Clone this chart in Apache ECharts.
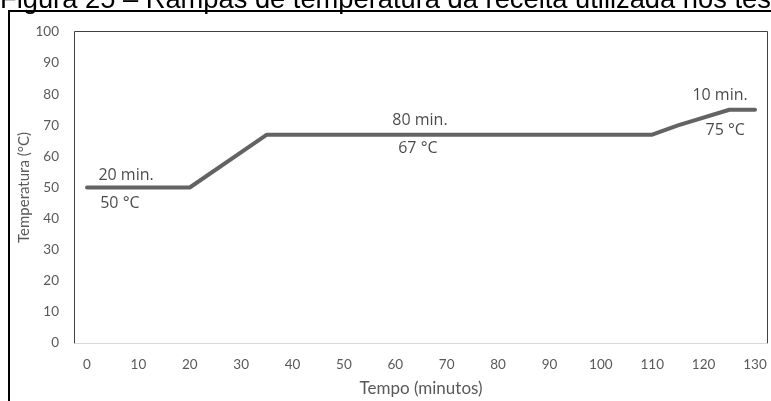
<!DOCTYPE html>
<html>
<head>
<meta charset="utf-8">
<script src="https://cdn.jsdelivr.net/npm/echarts@6/dist/echarts.min.js"></script>
<style>
html,body{margin:0;padding:0;background:#fff;}
#chart{width:771px;height:401px;}
</style>
</head>
<body>
<div id="chart"></div>
<script>
// Data
var timeMin = [0, 20, 35, 110, 115, 125, 130];
var tempC = [50, 50, 67, 67, 70, 75, 75];
var annText = ['20 min.', '50 °C', '80 min.', '67 °C', '10 min.', '75 °C'];
var annX = [7.6, 6.4, 64.8, 64.4, 123.2, 124.2];
var annY = [53.8, 44.8, 71.5, 62.5, 79.5, 68.3];
var xName = 'Tempo (minutos)';
var yName = 'Temperatura (°C)';
var titleText = 'Figura 25 – Rampas de temperatura da receita utilizada nos testes';

var lineData = timeMin.map(function (t, i) { return [t, tempC[i]]; });
var annData = annText.map(function (s, i) { return { value: [annX[i], annY[i]], name: s }; });

var chart = echarts.init(document.getElementById('chart'), null, { renderer: 'canvas' });
var font = 'Lato, "Open Sans", sans-serif';
chart.setOption({
  animation: false,
  backgroundColor: '#fff',
  grid: { left: 87, right: 16, top: 32, bottom: 58, outerBoundsMode: 'none', containLabel: false },
  xAxis: {
    type: 'value', min: 0, max: 130, interval: 10,
    name: xName, nameLocation: 'middle', nameGap: 37, nameMoveOverlap: false,
    nameTextStyle: { color: '#595959', fontSize: 17, fontFamily: font },
    axisLine: { show: false }, axisTick: { show: false }, splitLine: { show: false },
    axisLabel: { color: '#595959', fontSize: 13.5, fontFamily: font, margin: 15 }
  },
  yAxis: {
    type: 'value', min: 0, max: 100, interval: 10,
    name: yName, nameLocation: 'middle', nameGap: 55, nameMoveOverlap: false,
    nameTextStyle: { color: '#595959', fontSize: 15, fontFamily: font },
    axisLine: { show: false }, axisTick: { show: false }, splitLine: { show: false },
    axisLabel: { color: '#595959', fontSize: 13.5, fontFamily: font, margin: 28 }
  },
  graphic: [
    { type: 'text', left: 0, top: -13, style: { text: titleText, font: '27.3px "Liberation Sans", Arial', fill: '#000' } },
    { type: 'line', shape: { x1: 9, y1: 11, x2: 771, y2: 11 }, style: { stroke: '#000', lineWidth: 2 } },
    { type: 'line', shape: { x1: 9, y1: 10, x2: 9, y2: 401 }, style: { stroke: '#000', lineWidth: 2 } },
    { type: 'line', shape: { x1: 74.5, y1: 31.5, x2: 767.5, y2: 31.5 }, style: { stroke: '#404040', lineWidth: 1 } },
    { type: 'line', shape: { x1: 74.5, y1: 31.5, x2: 74.5, y2: 343.5 }, style: { stroke: '#404040', lineWidth: 1 } },
    { type: 'line', shape: { x1: 767.5, y1: 31.5, x2: 767.5, y2: 343.5 }, style: { stroke: '#404040', lineWidth: 1 } },
    { type: 'line', shape: { x1: 74.5, y1: 343.5, x2: 767.5, y2: 343.5 }, style: { stroke: '#d9d9d9', lineWidth: 1 } }
  ],
  series: [
    {
      type: 'line', data: lineData, symbol: 'none',
      lineStyle: { color: '#636363', width: 4, cap: 'round', join: 'round' }
    },
    {
      type: 'scatter', data: annData, symbolSize: 0, silent: true,
      label: {
        show: true, position: 'inside', formatter: function (p) { return p.name; },
        color: '#1a1a1a', fontSize: 16, fontFamily: '"Open Sans", Lato, sans-serif'
      }
    }
  ]
});
</script>
</body>
</html>
